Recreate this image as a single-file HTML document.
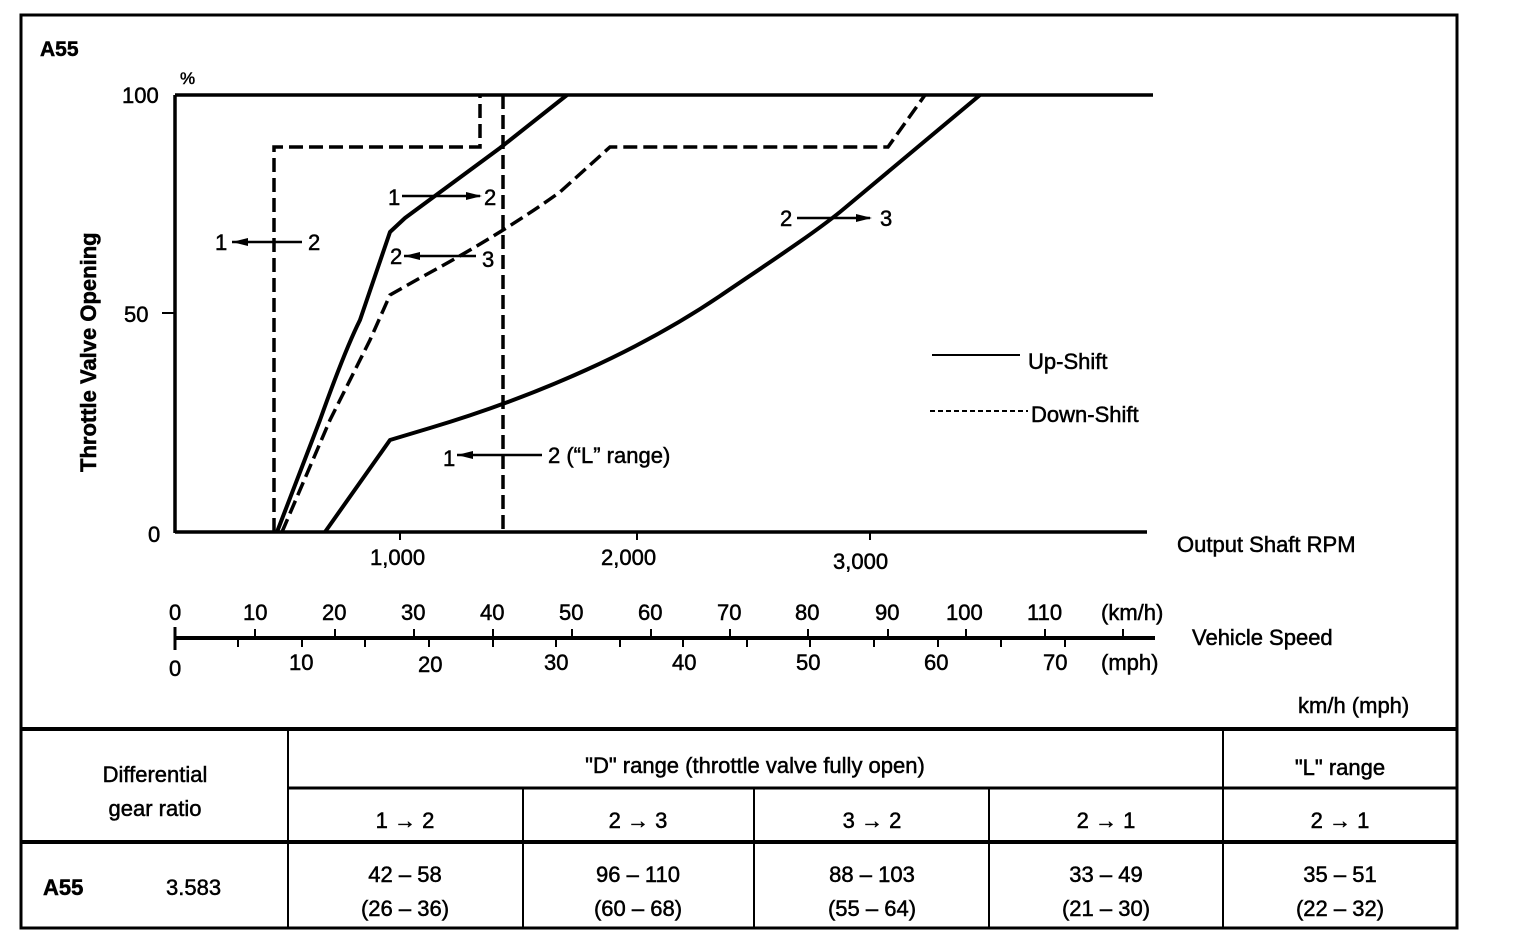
<!DOCTYPE html>
<html><head><style>
html,body{margin:0;padding:0;background:#fff;}
svg text{font-family:"Liberation Sans",sans-serif;fill:#000;stroke:#000;stroke-width:0.5;}
</style></head><body>
<svg width="1520" height="946" viewBox="0 0 1520 946" xmlns="http://www.w3.org/2000/svg">
<rect x="0" y="0" width="1520" height="946" fill="#fff"/>
<rect x="21" y="15" width="1436" height="913" fill="none" stroke="#000" stroke-width="3"/>
<text x="40" y="56" font-size="21" font-weight="bold">A55</text>
<g stroke="#000" stroke-width="3.5" fill="none">
<line x1="175" y1="95" x2="1153" y2="95"/>
<line x1="175" y1="95" x2="175" y2="533"/>
<line x1="175" y1="532" x2="1147" y2="532"/>
<line x1="162" y1="313" x2="175" y2="313" stroke-width="2"/>
<line x1="400" y1="532" x2="400" y2="540" stroke-width="2"/>
<line x1="637" y1="532" x2="637" y2="540" stroke-width="2"/>
<line x1="870" y1="532" x2="870" y2="540" stroke-width="2"/>
</g>
<text x="122" y="103" font-size="22">100</text>
<text x="180" y="84" font-size="17">%</text>
<text x="124" y="322" font-size="22">50</text>
<text x="148" y="542" font-size="22">0</text>
<text x="370" y="565" font-size="22">1,000</text>
<text x="601" y="565" font-size="22">2,000</text>
<text x="833" y="569" font-size="22">3,000</text>
<text x="1177" y="552" font-size="22">Output Shaft RPM</text>
<text transform="translate(96,472) rotate(-90)" font-size="22" font-weight="bold">Throttle Valve Opening</text>
<g stroke="#000" stroke-width="4" fill="none" stroke-linejoin="round">
<path d="M277,532 L320,420 Q345,350 360,320 L390,232 L405,218 Q470,170 500,148 L567,95"/>
<path d="M325,532 L390,440 L430,428 C540,395 640,350 720,296 C770,262 810,236 840,212 L980,95"/>
</g>
<g stroke="#000" stroke-width="3.5" fill="none" stroke-dasharray="14,6">
<path d="M282,532 L330,420 L370,340 L390,295 L420,278 Q500,235 560,192 L610,147 L888,147 L925,95"/>
<path d="M274,532 L274,147 L480,147 L480,95"/>
<path d="M503,95 L503,532"/>
</g>
<g stroke="#000" stroke-width="2.5">
<line x1="402" y1="196" x2="480" y2="196"/>
<line x1="232" y1="242" x2="302" y2="242"/>
<line x1="404" y1="256" x2="476" y2="256"/>
<line x1="797" y1="218" x2="870" y2="218"/>
<line x1="457" y1="455" x2="542" y2="455"/>
</g>
<g fill="#000">
<polygon points="482,196 466,192 466,200"/>
<polygon points="232,242 248,238 248,246"/>
<polygon points="404,256 420,252 420,260"/>
<polygon points="872,218 856,214 856,222"/>
<polygon points="457,455 473,451 473,459"/>
</g>
<g font-size="22">
<text x="388" y="205">1</text><text x="484" y="205">2</text>
<text x="215" y="250">1</text><text x="308" y="250">2</text>
<text x="390" y="264">2</text><text x="482" y="267">3</text>
<text x="780" y="226">2</text><text x="880" y="226">3</text>
<text x="443" y="466">1</text><text x="548" y="463">2 (“L” range)</text>
</g>
<line x1="932" y1="355" x2="1020" y2="355" stroke="#000" stroke-width="2"/>
<text x="1028" y="369" font-size="22">Up-Shift</text>
<line x1="930" y1="411" x2="1028" y2="411" stroke="#000" stroke-width="2" stroke-dasharray="5,3"/>
<text x="1031" y="422" font-size="22">Down-Shift</text>
<g stroke="#000" fill="none">
<line x1="175" y1="638" x2="1155" y2="638" stroke-width="4"/>
<line x1="175" y1="627" x2="175" y2="650" stroke-width="3"/>
<path stroke-width="2" d="M255,638v-9M335,638v-9M414,638v-9M493,638v-9M572,638v-9M651,638v-9M730,638v-9M808,638v-9M888,638v-9M966,638v-9M1045,638v-9M1123,638v-9
M238,638v9M302,638v9M365,638v9M429,638v9M493,638v9M556,638v9M620,638v9M683,638v9M747,638v9M810,638v9M874,638v9M938,638v9M1001,638v9M1065,638v9"/>
</g>
<g font-size="22">
<text x="169" y="620">0</text><text x="243" y="620">10</text><text x="322" y="620">20</text><text x="401" y="620">30</text><text x="480" y="620">40</text><text x="559" y="620">50</text><text x="638" y="620">60</text><text x="717" y="620">70</text><text x="795" y="620">80</text><text x="875" y="620">90</text><text x="946" y="620">100</text><text x="1027" y="620">110</text><text x="1101" y="620">(km/h)</text>
<text x="169" y="676">0</text><text x="289" y="670">10</text><text x="418" y="672">20</text><text x="544" y="670">30</text><text x="672" y="670">40</text><text x="796" y="670">50</text><text x="924" y="670">60</text><text x="1043" y="670">70</text><text x="1101" y="670">(mph)</text>
<text x="1192" y="645">Vehicle Speed</text>
<text x="1298" y="713">km/h (mph)</text>
</g>
<g stroke="#000" fill="none">
<line x1="21" y1="729" x2="1457" y2="729" stroke-width="4"/>
<line x1="288" y1="788" x2="1457" y2="788" stroke-width="3"/>
<line x1="21" y1="842" x2="1457" y2="842" stroke-width="4"/>
<line x1="288" y1="729" x2="288" y2="928" stroke-width="2"/>
<line x1="523" y1="788" x2="523" y2="928" stroke-width="2"/>
<line x1="754" y1="788" x2="754" y2="928" stroke-width="2"/>
<line x1="989" y1="788" x2="989" y2="928" stroke-width="2"/>
<line x1="1223" y1="729" x2="1223" y2="928" stroke-width="2"/>
</g>
<g font-size="22" text-anchor="middle">
<text x="155" y="782">Differential</text>
<text x="155" y="816">gear ratio</text>
<text x="755" y="773">"D" range (throttle valve fully open)</text>
<text x="1340" y="775">"L" range</text>
<text x="405" y="828">1 → 2</text>
<text x="638" y="828">2 → 3</text>
<text x="872" y="828">3 → 2</text>
<text x="1106" y="828">2 → 1</text>
<text x="1340" y="828">2 → 1</text>
<text x="405" y="882">42 – 58</text><text x="405" y="916">(26 – 36)</text>
<text x="638" y="882">96 – 110</text><text x="638" y="916">(60 – 68)</text>
<text x="872" y="882">88 – 103</text><text x="872" y="916">(55 – 64)</text>
<text x="1106" y="882">33 – 49</text><text x="1106" y="916">(21 – 30)</text>
<text x="1340" y="882">35 – 51</text><text x="1340" y="916">(22 – 32)</text>
</g>
<text x="43" y="895" font-size="22" font-weight="bold">A55</text>
<text x="166" y="895" font-size="22">3.583</text>
</svg>
</body></html>
